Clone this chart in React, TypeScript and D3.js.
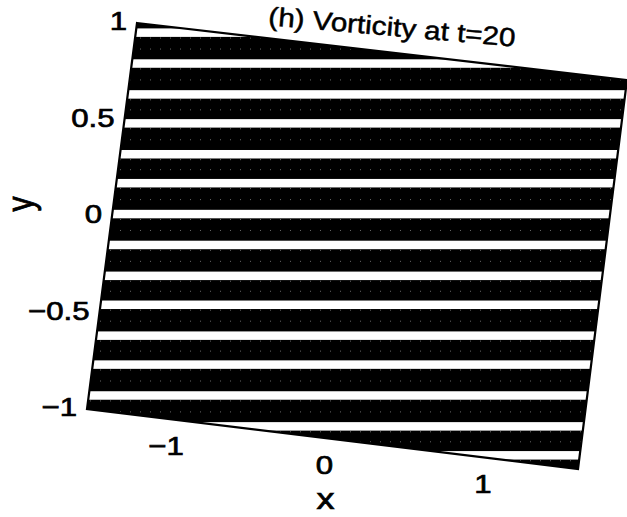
import React from "react";
import * as d3 from "d3";

// ---- data ----
const xDomain = [-1.55, 1.55];
const yDomain = [-1, 1];
const xTicks = [-1, 0, 1];
const xTickLabels = ["−1", "0", "1"];
const yTicks = [1, 0.5, 0, -0.5, -1];
const yTickLabels = ["1", "0.5", "0", "−0.5", "−1"];
// centres of the white vorticity bands (vertical coordinate)
const stripeCenters = [0.95, 0.79, 0.63, 0.48, 0.32, 0.17, 0.01, -0.15, -0.31, -0.46, -0.62, -0.77, -0.93, -1.09, -1.24];
const stripeHalfWidth = 0.022;
const titleText = "(h) Vorticity at t=20";
const xLabel = "x";
const yLabel = "y";

// ---- layout ----
const W = 627;
const H = 517;
const TL: [number, number] = [137, 23];
const TR: [number, number] = [627, 80];
const BR: [number, number] = [578, 469];
const BL: [number, number] = [87, 409];
const SX = 1.2; // horizontal stretch of the scanned text
const FONT = "'Liberation Sans', Arial, Helvetica, sans-serif";
const TEXT_STROKE = 0.7;

const uScale = d3.scaleLinear().domain(xDomain).range([0, 1]);
const vScale = d3.scaleLinear().domain([yDomain[1], yDomain[0]]).range([0, 1]);
const etaScale = d3.scaleLinear().domain([1, -1]).range([TL[1], BL[1]]);

function proj(u: number, v: number): [number, number] {
  const x = (1 - u) * (1 - v) * TL[0] + u * (1 - v) * TR[0] + (1 - u) * v * BL[0] + u * v * BR[0];
  const y = (1 - u) * (1 - v) * TL[1] + u * (1 - v) * TR[1] + (1 - u) * v * BL[1] + u * v * BR[1];
  return [x, y];
}
const P = (x: number, y: number) => proj(uScale(x), vScale(y));

export default function App() {
  const corners = [
    P(xDomain[0], yDomain[1]),
    P(xDomain[1], yDomain[1]),
    P(xDomain[1], yDomain[0]),
    P(xDomain[0], yDomain[0]),
  ];
  const quadPath = d3.line()(corners as [number, number][]) + "Z";

  // mesh (dotted) lines: just below each band and half-way between bands
  const meshLines: number[] = [];
  stripeCenters.forEach((c, i) => {
    meshLines.push(c - stripeHalfWidth - 0.006);
    if (i < stripeCenters.length - 1) meshLines.push((c + stripeCenters[i + 1]) / 2 - 0.005);
  });

  return (
    <svg
      width={W}
      height={H}
      viewBox={`0 0 ${W} ${H}`}
      style={{ position: "absolute", left: 0, top: 0, background: "#fff" }}
      fontFamily={FONT}
    >
      <defs>
        <clipPath id="quadClip">
          <path d={quadPath} />
        </clipPath>
      </defs>
      <rect x={0} y={0} width={W} height={H} fill="#fff" />
      <path d={quadPath} fill="#000" />
      <g clipPath="url(#quadClip)">
        {meshLines.map((m, i) => (
          <line
            key={"m" + i}
            x1={0}
            x2={W}
            y1={etaScale(m)}
            y2={etaScale(m)}
            stroke="#d0d0d0"
            strokeWidth={1}
            strokeDasharray="1 9"
            opacity={0.5}
          />
        ))}
        {stripeCenters.map((c, i) => (
          <rect
            key={"s" + i}
            x={0}
            width={W}
            y={etaScale(c + stripeHalfWidth)}
            height={etaScale(c - stripeHalfWidth) - etaScale(c + stripeHalfWidth)}
            fill="#fff"
          />
        ))}
      </g>
      <path d={quadPath} fill="none" stroke="#000" strokeWidth={2.2} strokeLinejoin="miter" />

      {/* y tick labels */}
      {yTicks.map((t, i) => {
        const [px, py] = P(xDomain[0], t);
        return (
          <g key={"yt" + i} transform={`translate(${px - 10},${py - 2}) scale(${SX},1)`}>
            <text textAnchor="end" dominantBaseline="central" fontSize={26} fill="#000" stroke="#000" strokeWidth={TEXT_STROKE}>
              {yTickLabels[i]}
            </text>
          </g>
        );
      })}

      {/* x tick labels */}
      {xTicks.map((t, i) => {
        const [px, py] = P(t, yDomain[0]);
        return (
          <g key={"xt" + i} transform={`translate(${px - 8},${py + 26}) scale(${SX},1)`}>
            <text textAnchor="middle" dominantBaseline="central" fontSize={26} fill="#000" stroke="#000" strokeWidth={TEXT_STROKE}>
              {xTickLabels[i]}
            </text>
          </g>
        );
      })}

      {/* axis labels */}
      {(() => {
        const [px, py] = P((xDomain[0] + xDomain[1]) / 2, yDomain[0]);
        return (
          <g transform={`translate(${px - 7},${py + 60}) scale(${SX},1)`}>
            <text textAnchor="middle" dominantBaseline="central" fontSize={30} fill="#000" stroke="#000" strokeWidth={TEXT_STROKE}>
              {xLabel}
            </text>
          </g>
        );
      })()}
      {(() => {
        const [px, py] = P(xDomain[0], (yDomain[0] + yDomain[1]) / 2);
        return (
          <g transform={`translate(${px - 91},${py - 12}) rotate(-90) scale(1,${SX})`}>
            <text textAnchor="middle" dominantBaseline="central" fontSize={30} fill="#000" stroke="#000" strokeWidth={TEXT_STROKE}>
              {yLabel}
            </text>
          </g>
        );
      })()}

      {/* title */}
      <g transform={`translate(392,27) rotate(5) scale(1.14,1)`}>
        <text textAnchor="middle" dominantBaseline="central" fontSize={26} fill="#000" stroke="#000" strokeWidth={0.5}>
          {titleText}
        </text>
      </g>
    </svg>
  );
}
